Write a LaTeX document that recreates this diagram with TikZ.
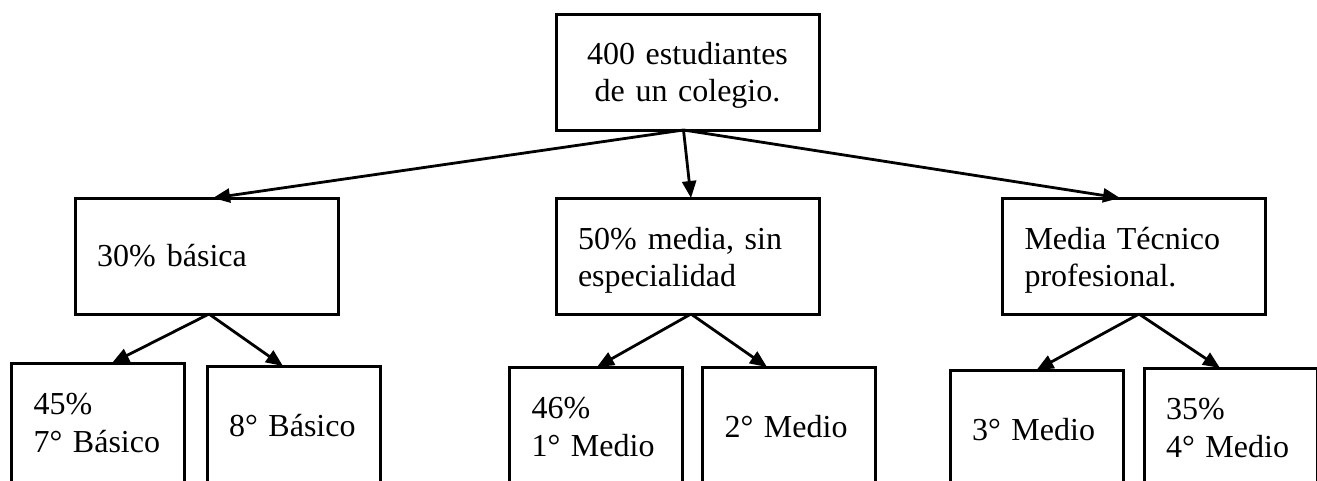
\documentclass[tikz,border=0pt]{standalone}
\usepackage{fontspec}
\setmainfont{Liberation Serif}
\usetikzlibrary{arrows.meta}
\newcommand{\boxfont}{\fontsize{32pt}{37.5pt}\selectfont}
\begin{document}
\begin{tikzpicture}[x=1pt,y=-1pt,
  box/.style={draw, line width=3pt, rectangle, inner xsep=22pt, inner ysep=0pt, outer sep=0pt, align=left, font=\boxfont},
  bigbox/.style={box, text width=219pt, minimum height=116pt},
  smallbox/.style={box, text width=129pt, minimum height=120pt},
  arr/.style={line width=2.8pt, -{Triangle[length=17pt,width=14pt]}}]
\useasboundingbox (0,0) rectangle (1317,480);
\clip (0,0) rectangle (1317,480);
% top
\node[bigbox, align=center, text height=22pt, text depth=38pt] (top) at (687.5,72) {400 estudiantes\\de un colegio.};
% level 2
\node[bigbox] (L) at (206.5,256) {30\%\hspace{0.35em}básica};
\node[bigbox, text height=22pt, text depth=36pt] (M) at (687.5,256) {50\%\hspace{0.35em}media, sin\\especialidad};
\node[bigbox, text height=22pt, text depth=36pt] (R) at (1134,256) {Media Técnico\\profesional.};
% level 3
\node[smallbox] (LL) at (98,423) {45\%\\7° Básico};
\node[smallbox] (LR) at (293.5,426) {8° Básico};
\node[smallbox] (ML) at (596,427) {46\%\\1° Medio};
\node[smallbox] (MR) at (789,427) {2° Medio};
\node[smallbox] (RL) at (1036.5,430) {3° Medio};
\node[smallbox] (RR) at (1230.5,428) {35\%\\4° Medio};
% connectors
\draw[arr] ([xshift=-4pt]top.south) -- ([xshift=6.5pt]L.north);
\draw[arr] ([xshift=-4pt]top.south) -- ([xshift=3.5pt]M.north);
\draw[arr] ([xshift=-4pt]top.south) -- ([xshift=-14pt]R.north);
\draw[arr] ([xshift=2.5pt]L.south) -- ([xshift=14pt]LL.north);
\draw[arr] ([xshift=2.5pt]L.south) -- ([xshift=-10.5pt]LR.north);
\draw[arr] ([xshift=3.5pt]M.south) -- ([xshift=1pt]ML.north);
\draw[arr] ([xshift=3.5pt]M.south) -- ([xshift=-22pt]MR.north);
\draw[arr] ([xshift=5pt]R.south) -- (RL.north);
\draw[arr] ([xshift=5pt]R.south) -- ([xshift=-10.5pt]RR.north);
\end{tikzpicture}
\end{document}
